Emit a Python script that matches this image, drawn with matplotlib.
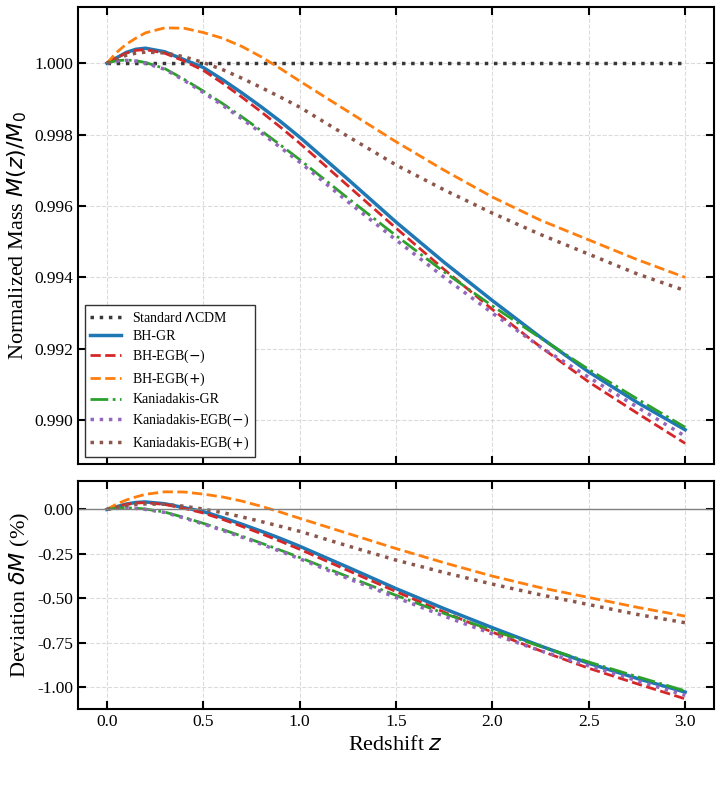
import numpy as np
import matplotlib
matplotlib.use("Agg")
import matplotlib.pyplot as plt

plt.rcParams['font.family'] = 'serif'
plt.rcParams['font.serif'] = ['Liberation Serif', 'DejaVu Serif']
plt.rcParams['mathtext.fontset'] = 'dejavusans'

# redshift samples
z = [0.0, 0.05, 0.1, 0.15, 0.2, 0.3, 0.4, 0.5, 0.6, 0.7, 0.8, 0.9, 1.0,
     1.25, 1.5, 1.75, 2.0, 2.25, 2.5, 2.75, 3.0]

# deviation from M0 in percent
dev_bh_gr = [0.0, 0.015, 0.030, 0.039, 0.042, 0.032, 0.010, -0.012, -0.046, -0.083, -0.122, -0.163, -0.207,
             -0.325, -0.445, -0.558, -0.665, -0.768, -0.865, -0.95, -1.027]
dev_bh_egb_m = [0.0, 0.015, 0.028, 0.036, 0.038, 0.028, 0.006, -0.02, -0.056, -0.095, -0.136, -0.179, -0.224,
                -0.343, -0.462, -0.578, -0.69, -0.795, -0.893, -0.98, -1.065]
dev_bh_egb_p = [0.0, 0.03, 0.053, 0.07, 0.085, 0.099, 0.098, 0.086, 0.07, 0.047, 0.018, -0.015, -0.05,
                -0.135, -0.22, -0.30, -0.375, -0.44, -0.495, -0.55, -0.60]
dev_k_gr = [0.0, 0.007, 0.009, 0.007, 0.002, -0.015, -0.045, -0.078, -0.113, -0.15, -0.189, -0.229, -0.27,
            -0.378, -0.483, -0.585, -0.68, -0.77, -0.858, -0.94, -1.02]
dev_k_egb_m = [0.0, 0.006, 0.008, 0.006, 0.0, -0.017, -0.048, -0.082, -0.118, -0.156, -0.195, -0.236, -0.277,
               -0.388, -0.495, -0.60, -0.70, -0.795, -0.88, -0.963, -1.045]
dev_k_egb_p = [0.0, 0.012, 0.022, 0.028, 0.031, 0.029, 0.018, 0.002, -0.018, -0.042, -0.068, -0.095, -0.123,
               -0.205, -0.285, -0.355, -0.42, -0.48, -0.535, -0.59, -0.637]
dev_lcdm = [0.0] * len(z)

series = [
    (dev_bh_gr, 'BH-GR', '#1f77b4', '-', 2.5),
    (dev_bh_egb_m, 'BH-EGB($-$)', '#d62728', '--', 2),
    (dev_bh_egb_p, 'BH-EGB($+$)', '#ff7f0e', '--', 2),
    (dev_k_gr, 'Kaniadakis-GR', '#2ca02c', '-.', 2),
    (dev_k_egb_m, 'Kaniadakis-EGB($-$)', '#9467bd', ':', 2.5),
    (dev_k_egb_p, 'Kaniadakis-EGB($+$)', '#8c564b', ':', 2.5),
]

fig = plt.figure(figsize=(7.22, 7.88), dpi=100)
ax1 = fig.add_axes([0.108, 0.411, 0.881, 0.580])
ax2 = fig.add_axes([0.108, 0.100, 0.881, 0.289], sharex=ax1)

zz = np.array(z)
ax1.plot(zz, 1 + np.array(dev_lcdm) / 100, color='#222222', ls=':', lw=2.5, alpha=0.9, label=r'Standard $\Lambda$CDM')
for d, lab, c, ls, lw in series:
    ax1.plot(zz, 1 + np.array(d) / 100, color=c, ls=ls, lw=lw, label=lab)
    ax2.plot(zz, d, color=c, ls=ls, lw=lw)
ax2.axhline(0, color='gray', lw=1)

ax1.set_ylabel('Normalized Mass $M(z)/M_0$', fontsize=16)
ax2.set_ylabel(r'Deviation $\delta M$ (%)', fontsize=16)
ax2.set_xlabel('Redshift $z$', fontsize=16)
ax1.yaxis.set_major_formatter(matplotlib.ticker.FormatStrFormatter('%.3f'))
ax2.yaxis.set_major_formatter(matplotlib.ticker.FormatStrFormatter('%.2f'))
ax2.set_yticks([0.0, -0.25, -0.5, -0.75, -1.0])
plt.setp(ax1.get_xticklabels(), visible=False)

for ax in (ax1, ax2):
    ax.grid(True, ls='--', color='#cccccc', alpha=0.7, lw=0.8)
    ax.tick_params(direction='in', top=True, right=True, length=6, width=1.5, labelsize=12.5)
    for s in ax.spines.values():
        s.set_linewidth(1.5)

leg = ax1.legend(loc='lower left', fontsize=10, fancybox=False, edgecolor='#333333',
                 framealpha=1, labelspacing=0.38, handlelength=2.2)
leg.get_frame().set_linewidth(1.0)

fig.savefig('out.png', dpi=100)
